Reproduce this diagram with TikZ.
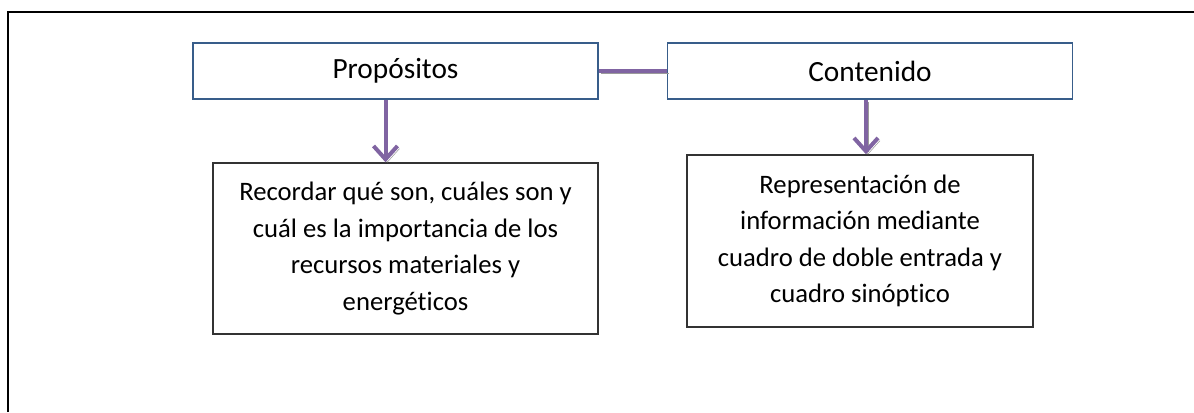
\documentclass[tikz,border=0pt]{standalone}
\usepackage{fontspec}
\setmainfont{Carlito}[Ligatures={NoCommon}]
\usetikzlibrary{arrows.meta}
\definecolor{azulcaja}{HTML}{385D8A}
\definecolor{morado}{HTML}{8064A2}
\definecolor{sombra}{HTML}{9A9A9A}
\begin{document}
\begin{tikzpicture}[x=0.75pt,y=-0.75pt,
    font=\fontsize{20}{27.4}\selectfont,
    titulo/.style={draw=azulcaja, line width=1.2pt, minimum width=303.75pt, minimum height=42pt,
      font=\fontsize{22}{26}\selectfont},
    caja/.style={draw=black!80, line width=1.1pt, align=center},
    enlace/.style={draw=morado, line width=3pt,
      preaction={draw=sombra, transform canvas={shift={(1.5pt,-2pt)}}}},
    flecha/.style={enlace, -{Straight Barb[length=10pt,width=18pt]}}]
    \useasboundingbox (0,0) rectangle (1194,412);
    \draw[line width=1.5pt] (8,412) -- (8,12) -- (1194,12);

    \node[titulo] (prop) at (395.5,71) {Propósitos};
    \node[titulo] (cont) at (870,71) {Contenido};

    \node[caja, minimum width=288.75pt, minimum height=128.25pt] (rec) at (405.5,248.5)
      {Recordar qué son, cuáles son y\\cuál es la importancia de los\\recursos materiales y\\energéticos};
    \node[caja, minimum width=259.5pt, minimum height=129pt] (rep) at (860,241)
      {Representación de\\información mediante\\cuadro de doble entrada y\\cuadro sinóptico};

    \draw[enlace] (prop.east) -- (cont.west);
    \draw[flecha] ([xshift=-7.5pt]prop.south) -- ([xshift=-7.5pt]prop.south |- rec.north);
    \draw[flecha] ([xshift=-3pt]cont.south) -- ([xshift=-3pt]cont.south |- rep.north);
\end{tikzpicture}
\end{document}
